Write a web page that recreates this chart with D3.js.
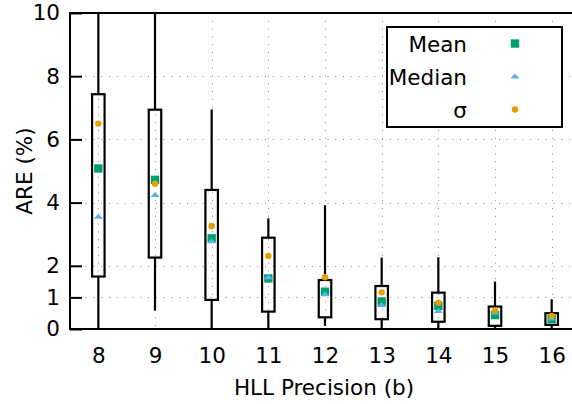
<!DOCTYPE html>
<html>
<head>
<meta charset="utf-8">
<script src="https://cdn.jsdelivr.net/npm/d3@7"></script>
<style>
  html, body { margin: 0; padding: 0; background: #fff; }
  svg { display: block; }
  text { font-family: "DejaVu Sans", sans-serif; fill: #000; }
</style>
</head>
<body>
<svg id="chart" width="572" height="404"></svg>
<script>
// HLL precision values (b)
const precisions = [8, 9, 10, 11, 12, 13, 14, 15, 16];
// Box-plot statistics of the absolute relative error (%)
const whiskerLow  = [0.00, 0.58, 0.00, 0.00, 0.10, 0.00, 0.00, 0.00, 0.00];
const q1          = [1.66, 2.26, 0.92, 0.55, 0.37, 0.31, 0.23, 0.10, 0.13];
const q3          = [7.43, 6.94, 4.40, 2.89, 1.55, 1.36, 1.15, 0.71, 0.50];
const whiskerHigh = [10.0, 10.0, 6.95, 3.50, 3.92, 2.26, 2.27, 1.50, 0.94];
const meanVals    = [5.08, 4.72, 2.87, 1.60, 1.18, 0.87, 0.73, 0.44, 0.31];
const medianVals  = [3.55, 4.24, 2.78, 1.64, 1.10, 0.76, 0.57, 0.52, 0.33];
const sigmaVals   = [6.50, 4.60, 3.26, 2.31, 1.64, 1.16, 0.83, 0.59, 0.41];
const yTicks = [0, 1, 2, 4, 6, 8, 10];

const colors = { mean: "#009e73", median: "#56b4e9", sigma: "#e69f00" };
const fontSize = 21.5;

const svg = d3.select("#chart");
const plotLeft = 70, plotRight = 580, plotTop = 13, plotBottom = 329;

const x = d3.scaleLinear().domain([7.5, 16.5]).range([plotLeft, plotRight]);
const y = d3.scaleLinear().domain([0, 10]).range([plotBottom, plotTop]);

const rows = precisions.map((p, i) => ({
  p, lo: whiskerLow[i], q1: q1[i], q3: q3[i], hi: whiskerHigh[i],
  mean: meanVals[i], median: medianVals[i], sigma: sigmaVals[i]
}));

// Dotted grid
const grid = svg.append("g").attr("stroke", "#8a8a8a").attr("stroke-width", 1)
  .attr("stroke-dasharray", "1,6.8");
grid.selectAll("line.h").data(yTicks.filter(t => t > 0 && t < 10)).join("line")
  .attr("class", "h")
  .attr("x1", plotLeft).attr("x2", plotRight)
  .attr("y1", d => Math.round(y(d)) + 0.5).attr("y2", d => Math.round(y(d)) + 0.5);
grid.selectAll("line.v").data(precisions).join("line")
  .attr("class", "v")
  .attr("x1", d => Math.round(x(d)) + 0.5).attr("x2", d => Math.round(x(d)) + 0.5)
  .attr("y1", plotTop).attr("y2", plotBottom);

// Box plots
const boxW = 12.5;
const boxes = svg.append("g").attr("stroke", "#000").attr("stroke-width", 2.2).attr("fill", "none");
boxes.selectAll("line.wh").data(rows).join("line")
  .attr("class", "wh")
  .attr("x1", d => x(d.p)).attr("x2", d => x(d.p))
  .attr("y1", d => y(d.hi)).attr("y2", d => y(d.q3));
boxes.selectAll("line.wl").data(rows).join("line")
  .attr("class", "wl")
  .attr("x1", d => x(d.p)).attr("x2", d => x(d.p))
  .attr("y1", d => y(d.q1)).attr("y2", d => y(d.lo));
boxes.selectAll("rect").data(rows).join("rect")
  .attr("x", d => x(d.p) - boxW / 2).attr("width", boxW)
  .attr("y", d => y(d.q3)).attr("height", d => y(d.q1) - y(d.q3));

// Marker shapes
const squarePath = d3.symbol(d3.symbolSquare, 70)();
const trianglePath = "M0,-3L4.6,2L-4.6,2Z";
const marks = svg.append("g");
marks.selectAll("path.mean").data(rows).join("path")
  .attr("class", "mean")
  .attr("d", squarePath).attr("fill", colors.mean)
  .attr("transform", d => `translate(${x(d.p)},${y(d.mean)})`);
marks.selectAll("path.median").data(rows).join("path")
  .attr("class", "median")
  .attr("d", trianglePath).attr("fill", colors.median)
  .attr("transform", d => `translate(${x(d.p)},${y(d.median)})`);
marks.selectAll("circle.sigma").data(rows).join("circle")
  .attr("class", "sigma")
  .attr("r", 3.2).attr("fill", colors.sigma)
  .attr("cx", d => x(d.p)).attr("cy", d => y(d.sigma));

// Axes frame (left, bottom, top)
const frame = svg.append("g").attr("stroke", "#000").attr("stroke-width", 2).attr("fill", "none");
frame.append("path").attr("d", `M${plotRight},${plotTop}H${plotLeft}V${plotBottom}H${plotRight}`);

// Y axis ticks and labels
const yAxis = svg.append("g").attr("transform", `translate(${plotLeft},0)`)
  .call(d3.axisLeft(y).tickValues(yTicks).tickSize(-12).tickPadding(22).tickFormat(d3.format("d")));
yAxis.select(".domain").remove();
yAxis.selectAll(".tick line").attr("stroke", "#000").attr("stroke-width", 2);
yAxis.selectAll(".tick text").attr("font-size", fontSize).attr("font-family", "DejaVu Sans").attr("dx", 12);

// X axis labels
const xAxis = svg.append("g").attr("transform", `translate(0,${plotBottom})`)
  .call(d3.axisBottom(x).tickValues(precisions).tickSize(0).tickPadding(18.5).tickFormat(d3.format("d")));
xAxis.select(".domain").remove();
xAxis.selectAll(".tick text").attr("font-size", fontSize).attr("font-family", "DejaVu Sans");

// Axis titles
svg.append("text").attr("x", 324).attr("y", 394.5).attr("text-anchor", "middle")
  .attr("font-size", fontSize).text("HLL Precision (b)");
svg.append("text").attr("transform", `translate(32,171) rotate(-90)`).attr("text-anchor", "middle")
  .attr("font-size", fontSize).text("ARE (%)");

// Legend
const legendItems = [
  { label: "Mean", key: "mean" },
  { label: "Median", key: "median" },
  { label: "σ", key: "sigma" }
];
const lg = svg.append("g");
lg.append("rect").attr("x", 387).attr("y", 27).attr("width", 175).attr("height", 100)
  .attr("fill", "#fff").attr("stroke", "#000").attr("stroke-width", 2);
legendItems.forEach((it, i) => {
  const cy = 43.5 + i * 33;
  lg.append("text").attr("x", 467).attr("y", cy + 8).attr("text-anchor", "end")
    .attr("font-size", fontSize).text(it.label);
  if (it.key === "mean") {
    lg.append("path").attr("d", squarePath).attr("fill", colors.mean)
      .attr("transform", `translate(515,${cy})`);
  } else if (it.key === "median") {
    lg.append("path").attr("d", trianglePath).attr("fill", colors.median)
      .attr("transform", `translate(515,${cy})`);
  } else {
    lg.append("circle").attr("r", 3.2).attr("fill", colors.sigma).attr("cx", 515).attr("cy", cy);
  }
});
</script>
</body>
</html>
